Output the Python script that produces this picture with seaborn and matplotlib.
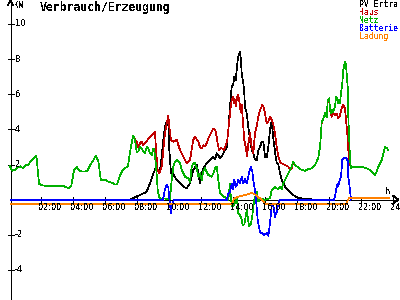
import matplotlib
matplotlib.use("Agg")
import matplotlib.pyplot as plt
import seaborn as sns
import numpy as np
import pandas as pd

sns.set_theme(style="white")
plt.rcParams['font.family'] = ['DejaVu Sans Mono', 'DejaVu Sans']
plt.rcParams['text.antialiased'] = False

# ---------------- data (hour of day, kW) ----------------
# night / morning part, identical for Haus and Netz (~10 min samples)
base_hours = np.linspace(0.03, 7.76, 47)
base_kw = [1.95, 1.65, 1.7, 1.85, 1.9, 1.8, 1.95, 2.0, 2.2, 2.35, 2.5, 0.9,
           0.82, 0.8, 0.78, 0.8, 0.75, 0.78, 0.76, 0.8, 0.78, 0.72, 0.65, 0.8,
           1.7, 1.85, 1.65, 1.6, 1.6, 1.65, 1.97, 2.2, 2.5, 2.2, 1.1, 1.12,
           1.1, 1.0, 0.98, 0.87, 0.87, 1.35, 1.65, 1.8, 1.9, 2.9, 3.65]

haus_day_hours = [7.870, 7.976, 8.076, 8.182, 8.289, 8.389, 8.601, 8.807, 9.013, 9.119,
                  9.182, 9.288, 9.388, 9.538, 9.638, 9.744, 9.850, 9.950, 10.012, 10.119,
                  10.262, 10.475, 10.681, 10.887, 11.099, 11.305, 11.512, 11.618, 11.824, 11.930,
                  12.036, 12.136, 12.242, 12.348, 12.448, 12.555, 12.661, 12.761, 12.867, 12.929,
                  13.036, 13.117, 13.242, 13.323, 13.448, 13.535, 13.635, 13.698, 13.760, 13.848,
                  13.910, 14.010, 14.073, 14.116, 14.179, 14.241, 14.322, 14.385, 14.472, 14.535,
                  14.635, 14.697, 14.785, 14.866, 14.947, 15.053, 15.159, 15.259, 15.365, 15.471,
                  15.572, 15.678, 15.821, 15.884, 15.990, 16.096, 16.196, 16.302, 16.408, 16.508,
                  16.615, 16.721, 16.821, 16.927, 17.033, 17.239, 17.445, 17.552, 17.658, 17.758]
haus_day_kw = [3.45, 3.3, 3.0, 3.2, 3.3, 3.1, 3.35, 3.55, 3.78, 3.87,
               2.83, 1.69, 1.5, 1.88, 2.83, 3.78, 4.35, 4.8, 4.15, 3.4,
               3.3, 3.4, 2.83, 2.45, 2.07, 2.26, 3.4, 3.59, 3.3, 3.0,
               2.92, 3.1, 3.05, 3.2, 3.5, 3.68, 3.87, 4.06, 4.0, 3.8,
               3.2, 2.83, 2.95, 2.9, 2.83, 3.1, 3.4, 3.97, 4.54, 5.29,
               5.67, 5.86, 5.5, 5.67, 5.3, 5.86, 5.96, 5.6, 5.0, 5.4,
               4.15, 3.4, 3.0, 2.45, 3.2, 3.78, 3.0, 2.64, 3.8, 4.15,
               4.72, 5.1, 5.39, 5.3, 4.92, 4.35, 4.45, 4.72, 4.54, 4.3,
               3.78, 3.0, 2.45, 2.16, 2.07, 1.97, 1.88, 1.69, 1.8, 2.16]

netz_day_hours = [7.870, 7.976, 8.076, 8.182, 8.289, 8.389, 8.495, 8.601, 8.701, 8.807,
                  8.913, 9.013, 9.076, 9.119, 9.182, 9.288, 9.369, 9.432, 9.931, 10.056,
                  10.162, 10.262, 10.369, 10.475, 10.681, 10.787, 10.993, 11.199, 11.305, 11.412,
                  11.512, 11.618, 11.724, 11.824, 11.930, 12.036, 12.136, 12.242, 12.348, 12.448,
                  12.661, 12.761, 12.867, 12.973, 13.073, 13.179, 13.385, 13.598, 13.698, 13.804,
                  13.866, 13.947, 14.073, 14.222, 14.322, 14.491, 14.597, 14.697, 14.741, 14.847,
                  14.909, 14.991, 15.116, 15.197, 15.322, 15.471, 15.572, 15.678, 15.990, 16.177,
                  16.302, 16.408, 16.508, 16.615, 16.721, 16.821, 16.927, 17.033, 17.133, 17.239,
                  17.345, 17.445, 17.552, 17.658, 17.758]
netz_day_kw = [3.4, 2.73, 2.75, 3.0, 2.92, 2.73, 2.64, 3.0, 2.92, 2.64,
               2.54, 2.92, 2.83, 2.45, 1.97, 0.55, 0.17, 0.08, 0.05, 0.05,
               1.12, 1.88, 2.16, 2.26, 2.07, 1.69, 1.31, 1.22, 1.0, 1.88,
               2.07, 2.07, 1.8, 1.31, 1.5, 1.12, 1.6, 1.79, 1.6, 1.41,
               1.31, 1.5, 1.79, 1.88, 1.12, 0.36, 0.17, 0.1, 0.0, 0.93,
               0.0, -0.4, -0.3, 0.17, -0.78, -0.97, -1.44, -1.4, -1.2, -0.59,
               -1.0, -1.5, -1.4, -0.9, 0.0, 0.45, -0.1, 0.05, 0.0, 0.05,
               0.08, 0.55, 0.64, 0.74, 0.65, 0.6, 0.74, 0.6, 0.93, 1.12,
               1.31, 1.5, 1.69, 1.88, 2.16]

# early evening, identical for Haus and Netz
mid_hours = [17.864, 18.070, 18.282, 18.488, 18.694, 18.907, 19.113, 19.319]
mid_kw = [1.97, 1.84, 1.69, 1.65, 1.75, 1.78, 1.95, 2.4]

haus_eve_hours = [19.425, 19.488, 19.532, 19.632, 19.738, 19.844, 19.906, 19.988, 20.050, 20.156,
                  20.256, 20.362, 20.469, 20.568, 20.675, 20.781, 20.881, 20.987, 21.093, 21.155,
                  21.193, 21.255, 21.362]
haus_eve_kw = [2.95, 3.78, 4.4, 4.6, 4.9, 4.7, 5.6, 5.75, 5.1, 4.72,
               4.9, 4.8, 4.9, 4.63, 4.8, 5.2, 5.39, 5.2, 4.15, 3.49,
               2.83, 2.26, 1.79]

netz_eve_hours = [19.425, 19.488, 19.532, 19.632, 19.738, 19.844, 19.906, 19.988, 20.050, 20.112,
                  20.194, 20.256, 20.362, 20.425, 20.506, 20.568, 20.675, 20.737, 20.818, 20.881,
                  20.943, 20.987, 21.049, 21.093, 21.155, 21.193, 21.255, 21.299, 21.362]
netz_eve_kw = [3.0, 3.78, 4.44, 4.6, 4.92, 4.7, 5.67, 5.77, 5.2, 4.92,
               5.1, 5.0, 5.29, 5.86, 5.8, 5.48, 5.48, 6.05, 6.62, 7.38,
               7.67, 7.86, 7.7, 7.19, 6.43, 4.72, 3.4, 2.26, 1.79]

# late evening, identical for Haus and Netz
end_hours = [21.505, 21.718, 21.924, 22.130, 22.342, 22.548, 22.755, 22.861, 22.967, 23.067,
             23.173, 23.279, 23.379, 23.485, 23.591, 23.691]
end_kw = [1.88, 1.84, 1.88, 1.84, 1.79, 1.69, 1.5, 1.4, 1.6, 1.88,
          2.07, 2.26, 2.64, 3.0, 2.95, 2.83]

pv_hours = [7.558, 7.764, 8.182, 8.495, 8.620, 8.807, 9.013, 9.163, 9.325, 9.432,
            9.538, 9.638, 9.744, 9.850, 9.950, 10.012, 10.119, 10.262, 10.475, 10.681,
            10.887, 11.099, 11.305, 11.512, 11.724, 11.824, 11.930, 12.036, 12.136, 12.348,
            12.555, 12.761, 12.867, 12.973, 13.073, 13.179, 13.285, 13.385, 13.598, 13.698,
            13.804, 13.910, 14.010, 14.073, 14.160, 14.222, 14.285, 14.322, 14.428, 14.491,
            14.535, 14.635, 14.697, 14.741, 14.847, 14.947, 15.053, 15.159, 15.259, 15.365,
            15.471, 15.572, 15.678, 15.784, 15.884, 15.990, 16.096, 16.196, 16.302, 16.365,
            16.446, 16.508, 16.615, 16.721, 16.821, 16.927, 17.033, 17.239, 17.445, 17.658,
            17.758, 17.970, 18.176, 18.801, 18.988]
pv_kw = [0.0, 0.1, 0.27, 0.4, 0.5, 0.93, 1.5, 1.79, 1.6, 1.7,
         2.45, 3.4, 4.15, 4.44, 4.3, 2.83, 1.5, 1.45, 1.12, 0.93,
         0.74, 0.65, 0.93, 1.69, 1.97, 1.5, 0.93, 1.5, 1.79, 2.07,
         2.26, 2.45, 2.3, 2.64, 2.55, 2.36, 2.45, 2.64, 3.0, 3.97,
         5.29, 6.43, 6.6, 7.0, 6.8, 7.38, 7.95, 8.14, 8.42, 7.9,
         7.19, 6.62, 6.05, 5.29, 4.92, 4.15, 3.4, 2.83, 2.64, 2.3,
         2.26, 2.8, 3.0, 3.3, 3.3, 2.45, 2.4, 3.0, 3.97, 4.35,
         4.1, 3.49, 2.73, 2.07, 2.0, 1.5, 1.12, 0.74, 0.55, 0.36,
         0.27, 0.14, 0.08, 0.05, 0.0]

batt_hours = [0.094, 9.619, 9.744, 9.850, 9.950, 10.056, 10.119, 10.200, 10.325, 13.616,
              13.698, 13.804, 13.910, 13.972, 14.073, 14.160, 14.222, 14.322, 14.428, 14.535,
              14.635, 14.741, 14.847, 14.947, 15.009, 15.116, 15.197, 15.259, 15.365, 15.428,
              15.534, 15.678, 15.803, 15.946, 16.096, 16.196, 16.302, 16.408, 16.508, 16.615,
              16.721, 16.821, 16.927, 20.300, 20.362, 20.469, 20.531, 20.568, 20.631, 20.737,
              20.818, 20.881, 21.093, 21.155, 21.193, 21.299, 21.362]
batt_kw = [0.0, 0.0, 0.6, 0.84, 0.7, -0.3, -0.78, -0.2, 0.0, 0.0,
           0.36, 0.45, 0.93, 0.6, 1.12, 0.74, 0.8, 1.12, 0.93, 1.31,
           0.93, 1.2, 0.95, 1.31, 1.6, 1.88, 1.6, 1.12, 0.55, 0.0,
           -1.16, -1.85, -1.91, -2.0, -1.9, -2.05, -1.35, -0.38, -0.3, -0.97,
           -0.7, -0.2, 0.0, 0.0, 0.17, 0.74, 0.93, 0.75, 1.03, 1.31,
           2.26, 2.36, 2.36, 2.2, 1.31, 0.55, 0.0]

lad_hours = [0.094, 13.929, 14.054, 14.322, 14.741, 15.159, 15.365, 15.572, 15.784, 15.884,
             15.990, 21.049, 21.237, 23.735]
lad_kw = [-0.24, -0.24, 0.05, 0.17, 0.27, 0.38, 0.3, 0.14, 0.02, -0.11,
          -0.24, -0.24, 0.1, 0.1]

series_names = ["PV Ertra", "Haus", "Netz", "Batterie", "Ladung"]
series_colors = ["#000000", "#c00000", "#00b000", "#0000ff", "#ff8000"]
x_ticks = [2, 4, 6, 8, 10, 12, 14, 16, 18, 20, 22, 24]
x_labels = ["02:00", "04:00", "06:00", "08:00", "10:00", "12:00",
            "14:00", "16:00", "18:00", "20:00", "22:00", "24:00"]
y_ticks = [10, 8, 6, 4, 2, -2, -4]
y_labels = ["10", "8", "6", "4", "2", "-2", "-4"]

# ---------------- assemble ----------------
haus_h = list(base_hours) + haus_day_hours + mid_hours + haus_eve_hours + end_hours
haus_v = list(base_kw) + haus_day_kw + mid_kw + haus_eve_kw + end_kw
netz_h = list(base_hours) + netz_day_hours + mid_hours + netz_eve_hours + end_hours
netz_v = list(base_kw) + netz_day_kw + mid_kw + netz_eve_kw + end_kw

frames = []
for name, hh, vv in zip(series_names,
                        [pv_hours, haus_h, netz_h, batt_hours, lad_hours],
                        [pv_kw, haus_v, netz_v, batt_kw, lad_kw]):
    frames.append(pd.DataFrame({"hour": hh, "kw": vv, "series": name}))
df = pd.concat(frames, ignore_index=True)

# ---------------- figure ----------------
fig = plt.figure(figsize=(4, 3), dpi=100)
fig.patch.set_facecolor("white")
ax = fig.add_axes([0, 0, 1, 1])
ax.set_facecolor("white")
X0, X1 = -0.562, 24.422
Y0, Y1 = -5.709, 11.366
ax.set_xlim(X0, X1)
ax.set_ylim(Y0, Y1)
ax.axis("off")

px_h = 1 / 16.01   # hours per pixel
px_v = 1 / 17.57   # kW per pixel
yaxis_x = 0.094
LW = 0.5
TICKFONT = ["DejaVu Sans"]

# axes lines
ax.plot([yaxis_x, yaxis_x], [Y0, Y1 - 0.5 * px_v], color="black", lw=LW, antialiased=False, zorder=1)
ax.plot([yaxis_x, X1 - 1.5 * px_h], [0, 0], color="black", lw=LW, antialiased=False, zorder=1)
# arrow heads
ax.plot([yaxis_x - 2.5 * px_h, yaxis_x, yaxis_x + 2.5 * px_h],
        [Y1 - 5 * px_v, Y1 - 0.5 * px_v, Y1 - 5 * px_v], color="black", lw=LW, antialiased=False)
ax.plot([X1 - 7 * px_h, X1 - 1.5 * px_h, X1 - 7 * px_h],
        [4 * px_v, 0, -4 * px_v], color="black", lw=LW, antialiased=False)
# ticks
for t in y_ticks:
    ax.plot([yaxis_x - 3 * px_h, yaxis_x + 3 * px_h], [t, t], color="black", lw=LW, antialiased=False)
for t in x_ticks:
    ax.plot([t, t], [-3 * px_v, 3 * px_v], color="black", lw=LW, antialiased=False)

# data lines
sns.lineplot(data=df, x="hour", y="kw", hue="series", hue_order=series_names,
             palette=dict(zip(series_names, series_colors)), estimator=None,
             sort=False, legend=False, linewidth=LW, ax=ax, zorder=3, antialiased=False)

# tick labels
for t, lab in zip(x_ticks, x_labels):
    ax.annotate(lab, xy=(t, 0), xytext=(-3, -7.5), textcoords="offset pixels",
                ha="left", va="center", fontsize=5.9, color="black", family=TICKFONT)
for t, lab in zip(y_ticks, y_labels):
    ax.annotate(lab, xy=(yaxis_x, t), xytext=(4.5, 0), textcoords="offset pixels",
                ha="left", va="center", fontsize=6.0, color="black", family=TICKFONT)

W, H = 400.0, 300.0
fig.text(14 / W, 1 - 5 / H, "KW", ha="left", va="center", fontsize=5.6, color="black")
fig.text(385 / W, 1 - 191.5 / H, "h", ha="left", va="center", fontsize=6.2, color="black")
fig.text(40 / W, 1 - 7.5 / H, "Verbrauch/Erzeugung", ha="left", va="center",
         fontsize=8.3, fontweight="bold", color="black")

leg_y = [4.5, 12.5, 20.5, 28.5, 36.5]
for name, col, yy in zip(series_names, series_colors, leg_y):
    fig.text(359 / W, 1 - yy / H, name, ha="left", va="center", fontsize=5.9, color=col)

fig.savefig("out.png", dpi=100, facecolor="white")
